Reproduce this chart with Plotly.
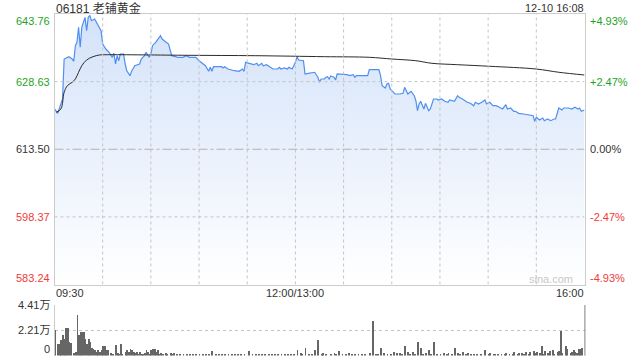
import plotly.graph_objects as go

# ---------------- data ----------------
title_text = "06181 老铺黄金"
stamp_text = "12-10 16:08"
prev_close = 613.50
price_ticks = [583.24, 598.37, 613.50, 628.63, 643.76]
pct_labels = ["-4.93%", "-2.47%", "0.00%", "+2.47%", "+4.93%"]
time_labels = ["09:30", "12:00/13:00", "16:00"]
time_label_at = ["09:30", "12:00", "16:00"]
grid_times = ["10:00", "10:30", "11:00", "11:30", "12:00",
              "13:30", "14:00", "14:30", "15:00", "15:30"]

price_times = [
    "09:30", "09:32", "09:34", "09:35", "09:36", "09:39", "09:41", "09:42", "09:43", "09:44",
    "09:45", "09:46", "09:47", "09:49", "09:50", "09:51", "09:52", "09:53", "09:55", "09:57",
    "09:59", "10:00", "10:02", "10:04", "10:06", "10:07", "10:08", "10:09", "10:10", "10:11",
    "10:13", "10:14", "10:15", "10:17", "10:18", "10:20", "10:23", "10:24", "10:26", "10:27",
    "10:29", "10:30", "10:31", "10:33", "10:36", "10:37", "10:40", "10:41", "10:43", "10:47",
    "10:50", "10:52", "10:54", "10:58", "11:00", "11:02", "11:04", "11:06", "11:07", "11:08",
    "11:09", "11:14", "11:15", "11:16", "11:18", "11:22", "11:25", "11:27", "11:28", "11:29",
    "11:32", "11:34", "11:36", "11:37", "11:39", "11:40", "11:42", "11:44", "11:46", "11:49",
    "11:50", "11:51", "11:53", "11:55", "11:56", "11:58", "12:00",
    "13:01", "13:02", "13:05", "13:06", "13:08", "13:12", "13:14", "13:15", "13:16", "13:18",
    "13:19", "13:20", "13:21", "13:22", "13:24", "13:25", "13:26", "13:30", "13:32", "13:34",
    "13:36", "13:37", "13:38", "13:45", "13:46", "13:52", "13:53", "13:54", "13:56", "13:57",
    "13:58", "13:59", "14:02", "14:05", "14:07", "14:08", "14:10", "14:12", "14:14", "14:15",
    "14:16", "14:17", "14:18", "14:20", "14:21", "14:23", "14:24", "14:26", "14:28", "14:29",
    "14:31", "14:33", "14:35", "14:36", "14:39", "14:41", "14:42", "14:44", "14:47", "14:49",
    "14:51", "14:52", "14:54", "14:56", "14:58", "14:59", "15:01", "15:03", "15:05", "15:07",
    "15:09", "15:11", "15:12", "15:14", "15:16", "15:17", "15:19", "15:22", "15:27", "15:28",
    "15:29", "15:30", "15:32", "15:34", "15:35", "15:37", "15:39", "15:41", "15:42", "15:43",
    "15:44", "15:46", "15:47", "15:50", "15:52", "15:54", "15:56", "15:57", "15:58", "16:00",
]
price_values = [
    622.51, 621.54, 623.62, 624.74, 633.69, 634.21, 633.69, 633.18, 636.67, 637.43,
    640.78, 636.31, 640.78, 643.02, 640.02, 643.02, 643.38, 642.26, 642.64, 641.14,
    640.02, 637.05, 635.93, 635.19, 634.07, 634.97, 632.57, 634.43, 633.31, 634.81,
    634.81, 632.57, 631.07, 629.96, 630.94, 632.19, 632.57, 633.69, 634.43, 635.19,
    634.07, 634.81, 636.67, 637.43, 638.91, 638.17, 637.43, 637.05, 634.43, 634.07,
    634.07, 634.43, 634.07, 634.07, 633.31, 632.73, 632.19, 630.94, 631.84, 630.94,
    631.97, 631.97, 631.68, 631.97, 631.45, 631.07, 630.94, 631.45, 630.94, 632.95,
    632.73, 632.42, 632.73, 632.19, 632.73, 632.19, 632.42, 631.84, 631.45, 631.45,
    631.84, 631.45, 631.68, 631.45, 631.84, 631.45, 632.95,
    634.21, 633.47, 633.31, 630.34, 630.49, 630.72, 629.60, 628.48, 629.22, 629.22,
    629.60, 629.73, 629.22, 629.89, 629.60, 628.99, 630.34, 630.34, 630.18, 629.96,
    630.18, 629.60, 629.96, 629.96, 631.30, 631.30, 629.96, 627.72, 627.20, 628.10,
    628.26, 626.98, 625.86, 625.86, 626.02, 627.36, 625.86, 626.47, 625.48, 624.36,
    622.13, 623.62, 624.23, 622.51, 623.78, 622.13, 622.51, 624.74, 624.74, 624.52,
    624.74, 624.23, 624.00, 624.52, 624.23, 625.48, 625.12, 624.74, 624.00, 623.78,
    623.24, 624.00, 623.62, 624.00, 624.52, 623.62, 624.00, 623.24, 623.24, 622.89,
    622.51, 623.47, 622.51, 622.73, 621.99, 621.99, 621.54, 621.39, 621.01, 621.01,
    619.75, 620.65, 620.04, 620.49, 619.89, 620.27, 619.89, 620.27, 620.27, 621.39,
    622.73, 622.28, 622.73, 622.73, 622.51, 622.89, 622.51, 622.73, 621.99, 622.28,
]

avg_times = ["09:31", "09:34", "09:36", "09:38", "09:41", "09:43", "09:45", "09:47", "09:50",
             "09:54", "09:58", "10:03", "10:53", "11:35", "13:18", "13:46", "14:00", "14:15",
             "14:25", "14:41", "15:01", "15:30", "15:44", "16:00"]
avg_values = [621.77, 622.51, 626.24, 627.72, 628.48, 629.22, 630.72, 632.19, 633.47,
              634.21, 634.59, 634.65, 634.52, 634.43, 634.21, 634.07, 633.69, 633.31,
              632.73, 632.42, 632.06, 631.45, 630.72, 630.11]

vol_times = [
    "09:30", "09:32", "09:33", "09:34", "09:35", "09:36", "09:37", "09:38", "09:39", "09:40",
    "09:42", "09:43", "09:44", "09:45", "09:46", "09:47", "09:48", "09:49", "09:50", "09:51",
    "09:52", "09:53", "09:54", "09:55", "09:56", "09:57", "09:58", "09:59", "10:00", "10:01",
    "10:02", "10:03", "10:05", "10:06", "10:08", "10:09", "10:10", "10:11", "10:12", "10:14",
    "10:15", "10:16", "10:17", "10:18", "10:19", "10:20", "10:21", "10:22", "10:23", "10:24",
    "10:25", "10:26", "10:27", "10:28", "10:29", "10:30", "10:31", "10:32", "10:33", "10:34",
    "10:35", "10:36", "10:37", "10:39", "10:40", "10:42", "10:43", "10:44", "10:46", "10:48",
    "10:50", "10:52", "10:54", "10:56", "10:58", "11:00", "11:02", "11:04", "11:06", "11:08",
    "11:10", "11:12", "11:14", "11:16", "11:18", "11:20", "11:22", "11:24", "11:26", "11:28",
    "11:31", "11:33", "11:35", "11:37", "11:39", "11:41", "11:43", "11:45", "11:47", "11:49",
    "11:51", "11:53", "11:55", "11:57", "11:59",
    "13:01", "13:03", "13:04", "13:06", "13:08", "13:10", "13:12", "13:14", "13:16", "13:17",
    "13:19", "13:22", "13:24", "13:25", "13:27", "13:29", "13:31", "13:33", "13:35", "13:37",
    "13:39", "13:41", "13:43", "13:46", "13:48", "13:50", "13:51", "13:53", "13:55", "13:57",
    "13:59", "14:01", "14:03", "14:05", "14:06", "14:08", "14:10", "14:11", "14:13", "14:14",
    "14:16", "14:18", "14:19", "14:21", "14:23", "14:24", "14:26", "14:28", "14:30", "14:32",
    "14:34", "14:35", "14:37", "14:39", "14:41", "14:42", "14:44", "14:46", "14:47", "14:49",
    "14:51", "14:53", "14:55", "14:58", "15:00", "15:01", "15:03", "15:04", "15:06", "15:08",
    "15:10", "15:11", "15:13", "15:15", "15:16", "15:18", "15:19", "15:21", "15:22", "15:23",
    "15:25", "15:26", "15:28", "15:29", "15:30", "15:32", "15:33", "15:34", "15:35", "15:37",
    "15:38", "15:40", "15:41", "15:43", "15:44", "15:45", "15:46", "15:48", "15:49", "15:51",
    "15:52", "15:53", "15:54", "15:55", "15:56", "15:57", "15:58", "16:00",
]
vol_values = [
    22200, 10000, 10000, 14100, 17800, 15000, 24500, 24500, 12000, 11200,
    2500, 3400, 35200, 17800, 20700, 20700, 20700, 15000, 10600, 15000,
    12000, 6800, 6300, 4800, 3400, 4800, 3400, 4800, 8300, 8300,
    5400, 4800, 2500, 1700, 9200, 2500, 1700, 10600, 1700, 3400,
    4800, 3400, 6300, 5400, 3400, 2500, 3400, 1700, 3400, 1700,
    1700, 2500, 4800, 3400, 1700, 4800, 6300, 6300, 3400, 4800,
    1700, 2500, 1700, 2500, 1700, 2500, 1700, 2500, 1200, 900,
    1500, 1000, 1300, 800, 1200, 1000, 1500, 900, 1800, 4200,
    1200, 1000, 1400, 900, 1300, 1100, 800, 1200, 1500, 1000,
    4200, 1300, 900, 1200, 1600, 1000, 1400, 800, 1100, 1500,
    1700, 1300, 1200, 1900, 1600,
    5400, 2500, 1300, 7200, 2000, 1500, 4800, 13500, 1200, 2500,
    1400, 2000, 2500, 1100, 4200, 1300, 1000, 2500, 1200, 900,
    1300, 1100, 1500, 2500, 30200, 2000, 1300, 6800, 2500, 2000,
    1500, 3000, 2500, 2500, 1400, 8300, 3400, 1500, 3000, 1400,
    12000, 7200, 1500, 2500, 4800, 1500, 12000, 2000, 1300, 2500,
    1200, 2500, 1400, 7200, 2500, 1200, 3000, 1400, 2500, 2000,
    1200, 1700, 1300, 5400, 1500, 2500, 1400, 2000, 1500, 2000,
    1300, 2500, 1700, 1400, 3000, 1600, 2500, 2500, 1800, 3000,
    2000, 3000, 4200, 2200, 3000, 2500, 8300, 2000, 4200, 2500,
    4200, 5400, 2000, 3000, 4200, 21300, 2500, 8300, 6300, 2500,
    3400, 5400, 3400, 2500, 6300, 6300, 7200, 44100,
]
vol_ticks = [0, 22050, 44100]
vol_labels = ["0", "2.21万", "4.41万"]


# ---------------- helpers ----------------
def t2i(t):
    """session minute index: 09:30 -> 0, 12:00/13:00 -> 150, 16:00 -> 330"""
    h, m = map(int, t.split(":"))
    mins = h * 60 + m
    return mins - 570 if mins <= 720 else mins - 780 + 150


W, H = 640, 360
X0, X1 = 54.5, 584.5          # plot left/right in px
MAIN_T, MAIN_B = 14, 284.5    # main panel top/bottom in px
VOL_T, VOL_B = 304.7, 355.6   # volume panel top/bottom in px


def px(x):
    return x / W


def py(y):
    return 1 - y / H


FONT = "Liberation Sans, Arial, Noto Sans CJK SC, sans-serif"
GREEN, RED, DARK = "#1fa31f", "#f03a3a", "#333333"
GRID = "#c4c4c4"

px_price = [t2i(t) for t in price_times]
px_avg = [t2i(t) for t in avg_times]
px_vol = [t2i(t) for t in vol_times]
grid_idx = [t2i(t) for t in grid_times]

fig = go.Figure()
fig.add_trace(go.Scatter(
    x=px_price, y=price_values, mode="lines",
    line=dict(color="#4f8ff0", width=1.2),
    fill="tozeroy",
    fillgradient=dict(type="vertical",
                      colorscale=[[0, "#ffffff"], [1, "#d3e2f9"]],
                      start=price_ticks[0], stop=price_ticks[-1]),
    xaxis="x", yaxis="y", hoverinfo="skip",
))
fig.add_trace(go.Scatter(
    x=px_avg, y=avg_values, mode="lines", line=dict(color="#2b2b2b", width=1, shape="spline"),
    xaxis="x", yaxis="y", hoverinfo="skip",
))
fig.add_trace(go.Bar(
    x=px_vol, y=vol_values, width=0.55, marker=dict(color="#666666", line=dict(width=0)),
    xaxis="x2", yaxis="y2", hoverinfo="skip",
))

xdom = [px(X0), px(X1)]
fig.update_layout(
    width=W, height=H, autosize=False,
    margin=dict(l=0, r=0, t=0, b=0),
    paper_bgcolor="white", plot_bgcolor="rgba(0,0,0,0)",
    showlegend=False, bargap=0,
    font=dict(family=FONT, size=11, color=DARK),
    xaxis=dict(domain=xdom, range=[0, 330], showticklabels=False, showgrid=False,
               showline=True, linecolor="#cccccc", mirror=True, zeroline=False, ticks=""),
    yaxis=dict(domain=[py(MAIN_B), py(MAIN_T)], range=[price_ticks[0], price_ticks[-1]],
               showticklabels=False, showgrid=False,
               showline=True, linecolor="#cccccc", mirror=True, zeroline=False, ticks=""),
    xaxis2=dict(domain=xdom, range=[0, 330], anchor="y2", showticklabels=False,
                showgrid=False, showline=False, zeroline=False, ticks=""),
    yaxis2=dict(domain=[py(VOL_B), py(VOL_T)], range=[0, vol_ticks[-1]], anchor="x2",
                tickvals=vol_ticks[1:], showticklabels=False,
                showgrid=True, gridcolor=GRID, griddash="dot", gridwidth=1,
                showline=True, linecolor="#cccccc", mirror=True, zeroline=False, ticks=""),
)

# grid lines drawn above the area fill (as in the reference)
for gi in grid_idx:
    fig.add_shape(type="line", xref="x", yref="y", x0=gi, x1=gi,
                  y0=price_ticks[0], y1=price_ticks[-1], layer="above",
                  line=dict(color=GRID, width=1, dash="dot"))
for v in price_ticks[1:-1]:
    if abs(v - prev_close) < 1e-9:
        continue
    fig.add_shape(type="line", xref="x", yref="y", x0=0, x1=330, y0=v, y1=v, layer="above",
                  line=dict(color=GRID, width=1, dash="dot"))
# previous-close line
fig.add_shape(type="line", xref="x", yref="y", x0=0, x1=330, y0=prev_close, y1=prev_close,
              layer="above", line=dict(color="#b0b0b0", width=1, dash="dashdot"))

ann = []


def color_for(v):
    if v > prev_close + 1e-9:
        return GREEN
    if v < prev_close - 1e-9:
        return RED
    return DARK


for i, (v, pl) in enumerate(zip(price_ticks, pct_labels)):
    ya = "middle"
    if i == 0:
        ya = "bottom"
    elif i == len(price_ticks) - 1:
        ya = "top"
    c = color_for(v)
    ann.append(dict(x=px(51), xref="paper", y=v, yref="y", text=f"{v:.2f}", xanchor="right",
                    yanchor=ya, showarrow=False, font=dict(size=11, color=c), borderpad=0))
    ann.append(dict(x=px(589), xref="paper", y=v, yref="y", text=pl, xanchor="left",
                    yanchor=ya, showarrow=False, font=dict(size=11, color=c), borderpad=0))

for lab, at in zip(time_labels, time_label_at):
    xi = t2i(at)
    xa = "left" if xi == 0 else ("right" if xi == 330 else "center")
    ann.append(dict(x=xi, xref="x", y=py(293), yref="paper", text=lab, xanchor=xa,
                    yanchor="middle", showarrow=False, font=dict(size=11, color=DARK), borderpad=0))

for v, lab in zip(vol_ticks, vol_labels):
    ann.append(dict(x=px(51), xref="paper", y=v, yref="y2", text=lab, xanchor="right",
                    yanchor="bottom" if v == 0 else "middle", showarrow=False,
                    font=dict(size=11, color=DARK), borderpad=0))

ann.append(dict(x=px(55), xref="paper", y=py(8), yref="paper", text=title_text, xanchor="left",
                yanchor="middle", showarrow=False, font=dict(size=12, color=DARK), borderpad=0))
ann.append(dict(x=px(585), xref="paper", y=py(8), yref="paper", text=stamp_text, xanchor="right",
                yanchor="middle", showarrow=False, font=dict(size=11, color=DARK), borderpad=0))
ann.append(dict(x=px(574), xref="paper", y=py(279), yref="paper", text="sina.com", xanchor="right",
                yanchor="middle", showarrow=False, font=dict(size=11, color="#c8c8c8"), borderpad=0))

fig.update_layout(annotations=ann)
fig.write_html("out.html")
